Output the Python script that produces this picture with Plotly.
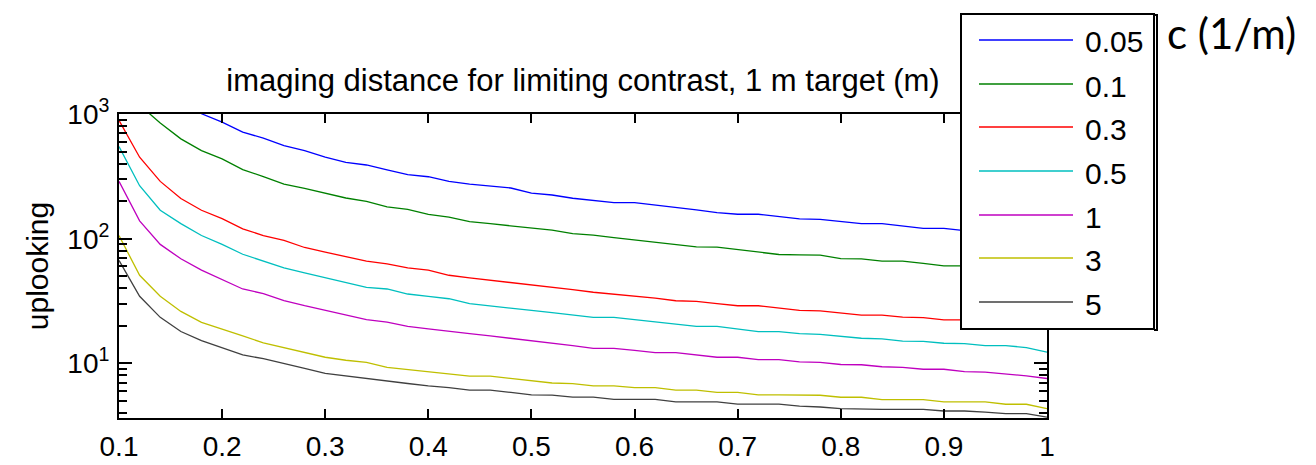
import plotly.graph_objects as go

# ---------------- data ----------------
x_vals = [round(0.10 + 0.02 * i, 2) for i in range(46)]  # 0.10 ... 1.00

c_labels = ["0.05", "0.1", "0.3", "0.5", "1", "3", "5"]
colors = ["#0000FF", "#008000", "#FF0000", "#00BFBF", "#BF00BF", "#BFBF00", "#404040"]

d_005 = [None, None, None, 1260, 1005, 861, 716, 640, 558, 509, 450, 410, 390, 356, 326, 314,
         288, 274, 266, 255, 232, 224, 211, 204, 195, 195, 187, 178, 170, 162, 157, 157,
         150, 144, 143, 137, 132, 132, 127, 121, 121, 116, 113, 110, 107, 104]
d_01 = [None, 1180, 846, 632, 509, 436, 358, 315, 274, 253, 232, 212, 199, 180, 172, 157,
        149, 137, 132, 127, 121, 117, 110, 107, 102, 97.5, 93.9, 89.9, 86.1, 85.6, 82.0, 78.5,
        74.7, 74.2, 73.8, 69.3, 69.0, 66.0, 66.0, 63.3, 60.6, 60.6, 59, 57.5, 56, 54]
d_03 = [890, 450, 288, 210, 169, 145, 120, 106, 97, 85, 78, 72, 66.1, 62.9, 58.4, 55.9,
        50.9, 48.5, 46.5, 44.2, 42.9, 41.0, 39.0, 37.2, 36.0, 34.5, 33.4, 31.8, 31.4, 30.1, 29.0, 29.0,
        27.8, 26.6, 26.4, 25.3, 24.4, 24.4, 23.5, 23.3, 22.3, 22.3, 21.8, 21.3, 20.8, 20.3]
d_05 = [548, 266, 169, 132, 106, 90, 75, 66, 58.4, 53.2, 48.5, 44.5, 40.7, 39.5, 36.0, 34.5,
        33.0, 30.1, 29.0, 27.8, 26.6, 25.5, 24.3, 23.4, 23.4, 22.4, 21.4, 20.6, 19.8, 19.8, 18.9, 18.0,
        18.0, 17.3, 17.1, 16.4, 15.9, 15.7, 15.1, 15.0, 14.5, 14.4, 13.9, 13.9, 13.4, 12.3]
d_1 = [288, 139, 90, 69, 55.9, 47, 39.5, 36.3, 31.9, 29.0, 26.6, 24.4, 22.4, 21.4, 19.8, 18.9,
       18.2, 17.3, 16.6, 15.9, 15.3, 14.6, 13.9, 13.2, 13.2, 12.7, 12.2, 12.2, 11.7, 11.2, 11.2, 10.7,
       10.7, 10.3, 10.2, 9.8, 9.75, 9.4, 9.3, 8.97, 8.97, 8.6, 8.5, 8.26, 7.95, 7.56]
d_3 = [106, 50.9, 34.5, 26.1, 21.3, 18.9, 16.6, 14.6, 13.4, 12.2, 11.2, 10.6, 10.2, 9.3, 8.95, 8.6,
       8.3, 7.9, 7.9, 7.6, 7.3, 6.96, 6.87, 6.6, 6.6, 6.4, 6.4, 6.1, 6.1, 5.85, 5.85, 5.6,
       5.6, 5.6, 5.55, 5.35, 5.35, 5.12, 5.12, 5.12, 4.91, 4.91, 4.91, 4.70, 4.70, 4.34]
d_5 = [67, 34.5, 23.4, 18.0, 15.2, 13.4, 11.7, 10.9, 9.9, 9.1, 8.3, 7.9, 7.6, 7.2, 6.9, 6.6,
       6.4, 6.1, 6.1, 5.85, 5.6, 5.57, 5.37, 5.37, 5.14, 5.14, 5.14, 4.92, 4.92, 4.92, 4.71, 4.71,
       4.71, 4.54, 4.47, 4.34, 4.28, 4.28, 4.28, 4.28, 4.15, 4.15, 4.07, 3.95, 3.95, 3.71]

series = [d_005, d_01, d_03, d_05, d_1, d_3, d_5]

x_tickvals = [0.1, 0.2, 0.3, 0.4, 0.5, 0.6, 0.7, 0.8, 0.9, 1.0]
x_ticktext = ["0.1", "0.2", "0.3", "0.4", "0.5", "0.6", "0.7", "0.8", "0.9", "1"]
y_tickvals = [10, 100, 1000]
y_ticktext = ["10<sup>1</sup>", "10<sup>2</sup>", "10<sup>3</sup>"]

title_text = "imaging distance for limiting contrast, 1 m target (m)"
y_title = "uplooking"
legend_title = "c (1/m)"

# ---------------- layout geometry (pixels) ----------------
W, H = 1316, 465
PL, PR, PT, PB = 119, 1047, 114, 418


def px_x(p):
    return (p - PL) / (PR - PL)


def px_y(p):
    return (PB - p) / (PB - PT)


FONT = "Liberation Sans, Arial, sans-serif"

fig = go.Figure()
for vals, name, col in zip(series, c_labels, colors):
    fig.add_trace(go.Scatter(x=x_vals, y=vals, mode="lines", name=name,
                             line=dict(color=col, width=1.3), showlegend=False))

minor_vals = [m * 10 ** e for e in range(0, 3) for m in range(2, 10)]

fig.update_layout(
    width=W, height=H,
    margin=dict(l=PL, r=W - PR, t=PT, b=H - PB),
    paper_bgcolor="white", plot_bgcolor="white",
    font=dict(family=FONT, color="black", size=28),
    title=dict(text=title_text, x=0.5, xref="paper", y=1 - 80 / H, yref="container",
               xanchor="center", yanchor="middle", font=dict(size=31, family=FONT)),
    xaxis=dict(range=[0.1, 1.0], tickmode="array", tickvals=x_tickvals, ticktext=x_ticktext,
               ticks="inside", ticklen=9, tickwidth=2, tickcolor="black",
               showline=True, linecolor="black", linewidth=2, mirror="ticks",
               showgrid=False, zeroline=False, tickfont=dict(size=28, family=FONT),
               ticklabelstandoff=2, automargin=False),
    yaxis=dict(type="log", range=[0.562, 3.0], tickmode="array", tickvals=y_tickvals,
               ticktext=y_ticktext, ticks="inside", ticklen=13, tickwidth=2, tickcolor="black",
               showline=True, linecolor="black", linewidth=2, mirror="ticks",
               showgrid=False, zeroline=False, tickfont=dict(size=28, family=FONT),
               ticklabelstandoff=2, automargin=False,
               minor=dict(tickmode="array", tickvals=minor_vals, ticks="inside", ticklen=8,
                          tickwidth=2, tickcolor="black", showgrid=False),
               title=dict(text=y_title, font=dict(size=30, family=FONT), standoff=10)),
)

# ---------------- manual legend ----------------
LB_L, LB_R, LB_T, LB_B = 961, 1154, 14, 329
fig.add_shape(type="rect", xref="paper", yref="paper",
              x0=px_x(LB_L), x1=px_x(LB_R), y0=px_y(LB_B), y1=px_y(LB_T),
              fillcolor="white", line=dict(color="black", width=2), layer="above")
# bracket on the right of the legend box
fig.add_shape(type="path", xref="paper", yref="paper", layer="above",
              path="M {a},{t} L {b},{t} L {b},{bo} L {a},{bo}".format(
                  a=px_x(1154), b=px_x(1157), t=px_y(15), bo=px_y(330)),
              line=dict(color="black", width=2))

row_y = [40, 84, 127, 171, 215, 258, 302]
for name, col, ry in zip(c_labels, colors, row_y):
    fig.add_shape(type="line", xref="paper", yref="paper", layer="above",
                  x0=px_x(979), x1=px_x(1073), y0=px_y(ry), y1=px_y(ry),
                  line=dict(color=col, width=1.3))
    fig.add_annotation(text=name, xref="paper", yref="paper", x=px_x(1083), y=px_y(ry + 2),
                       xanchor="left", yanchor="middle", showarrow=False,
                       font=dict(size=30, family=FONT, color="black"))

fig.add_annotation(text=legend_title, xref="paper", yref="paper", x=px_x(1165), y=px_y(33),
                   xanchor="left", yanchor="middle", showarrow=False,
                   font=dict(size=42, family="Lato, Carlito, sans-serif", color="black"))

fig.write_html("out.html", config={"displayModeBar": False},
               post_script="document.body.style.margin='0';")
